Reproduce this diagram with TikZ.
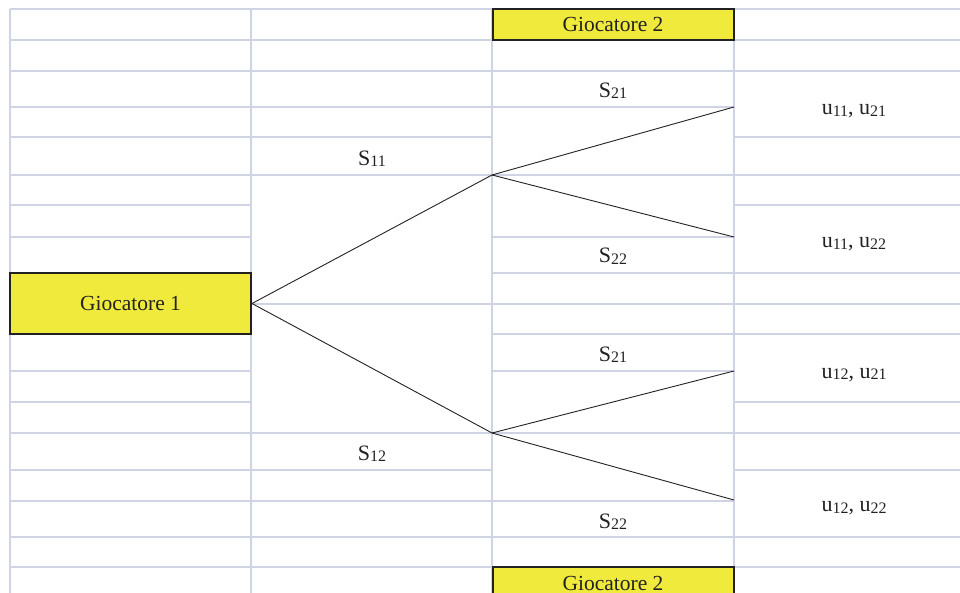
\documentclass[tikz,border=0pt]{standalone}
\usepackage{fontspec}
\setmainfont{Liberation Serif}
\definecolor{gridc}{HTML}{CED4E4}
\definecolor{boxfill}{HTML}{F0EA3C}
\definecolor{ink}{HTML}{222222}
% strategy / payoff label with a lowered, smaller index
\newcommand\idx[1]{\raisebox{-1.3pt}{\fontsize{16}{16}\selectfont #1}}
\tikzset{
  gridline/.style={draw=gridc, line width=2pt},
  player/.style={draw=ink, line width=2pt, fill=boxfill, inner sep=0pt,
    minimum width=241pt, text=ink, font=\fontsize{21.5}{22}\selectfont},
  branch/.style={draw=ink, line width=0.9pt},
  lab/.style={anchor=base, inner sep=0pt, text=ink, font=\fontsize{22}{22}\selectfont},
}
\begin{document}
\begin{tikzpicture}[x=1pt, y=-1pt]
\useasboundingbox (0,0) rectangle (960,593);
\clip (0,0) rectangle (960,593);

% sheet grid: vertical rules
\foreach \gx in {10,251,734} \draw[gridline] (\gx,9) -- (\gx,600);
\draw[gridline] (492,9) -- (492,600);

% sheet grid: horizontal rules, column by column
\foreach \gy in {9,40,71,107,137.5,175,205.5,237,371,402,433,470,501,537,567}
  \draw[gridline] (10,\gy) -- (251,\gy);
\foreach \gy in {9,40,71,107,137.5,175,304,433,470,501,537,567}
  \draw[gridline] (251,\gy) -- (492,\gy);
\foreach \gy in {71,107,175,237,273,304,334,371,433,501,537}
  \draw[gridline] (492,\gy) -- (734,\gy);
\foreach \gy in {9,40,71,137.5,175,205.5,273,304,334,402,433,470,537,567}
  \draw[gridline] (734,\gy) -- (960,\gy);

% players
\node[player, minimum height=61pt] (g1) at (130.5,303.5) {Giocatore 1};
\node[player, minimum height=31pt] (g2a) at (613,24.5) {Giocatore 2};
\node[player, minimum height=32pt] (g2b) at (613,583) {Giocatore 2};

% decision nodes and outcomes
\coordinate (n1) at (492,175);
\coordinate (n2) at (492,433);
\coordinate (o11) at (734,107);
\coordinate (o12) at (734,237);
\coordinate (o21) at (734,371);
\coordinate (o22) at (734,500);

% game tree
\draw[branch] (g1.east) -- (n1);
\draw[branch] (g1.east) -- (n2);
\draw[branch] (n1) -- (o11);
\draw[branch] (n1) -- (o12);
\draw[branch] (n2) -- (o21);
\draw[branch] (n2) -- (o22);

% strategies
\node[lab] (s11) at (372,165.7) {S\idx{11}};
\node[lab] (s12) at (372,460) {S\idx{12}};
\node[lab] (s21a) at (613,97.7) {S\idx{21}};
\node[lab] (s22a) at (613,263) {S\idx{22}};
\node[lab] (s21b) at (613,361) {S\idx{21}};
\node[lab] (s22b) at (613,528) {S\idx{22}};

% payoffs
\node[lab] (p1) at (854,115) {u\idx{11}, u\idx{21}};
\node[lab] (p2) at (854,248) {u\idx{11}, u\idx{22}};
\node[lab] (p3) at (854,378) {u\idx{12}, u\idx{21}};
\node[lab] (p4) at (854,511.7) {u\idx{12}, u\idx{22}};
\end{tikzpicture}
\end{document}
